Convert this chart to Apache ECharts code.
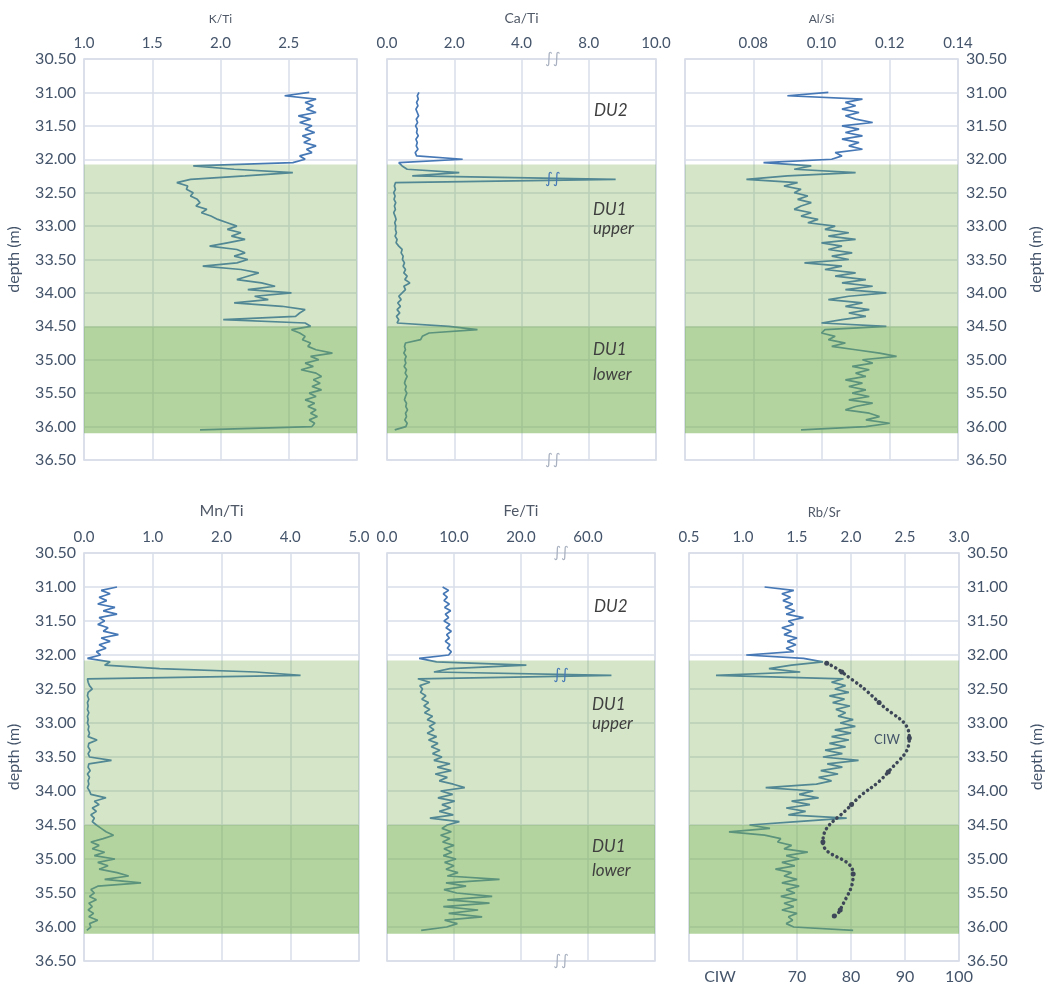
<!DOCTYPE html>
<html><head><meta charset="utf-8">
<script src="https://cdn.jsdelivr.net/npm/echarts@6/dist/echarts.min.js"></script>
<style>html,body{margin:0;padding:0;background:#fff}#c{width:1049px;height:988px}</style>
</head><body><div id="c"></div>
<script>
// ---------------- DATA ----------------
const depth = [
31.00,31.05,31.10,31.15,31.20,31.25,31.30,31.35,31.40,31.45,31.50,31.55,31.60,31.65,31.70,31.75,31.80,31.85,31.90,31.95,
32.00,32.05,32.10,32.15,32.20,32.25,32.30,32.35,32.40,32.45,32.50,32.55,32.60,32.65,32.70,32.75,32.80,32.85,32.90,32.95,
33.00,33.05,33.10,33.15,33.20,33.25,33.30,33.35,33.40,33.45,33.50,33.55,33.60,33.65,33.70,33.75,33.80,33.85,33.90,33.95,
34.00,34.05,34.10,34.15,34.20,34.25,34.30,34.35,34.40,34.45,34.50,34.55,34.60,34.65,34.70,34.75,34.80,34.85,34.90,34.95,
35.00,35.05,35.10,35.15,35.20,35.25,35.30,35.35,35.40,35.45,35.50,35.55,35.60,35.65,35.70,35.75,35.80,35.85,35.90,35.95,
36.00,36.05,36.10];

const kTi = [
2.65,2.47,2.70,2.62,2.68,2.63,2.70,2.57,2.66,2.58, 2.67,2.62,2.69,2.60,2.66,2.61,2.70,2.63,2.67,2.58,
2.62,2.53,1.80,2.10,2.53,2.18,1.78,1.68,1.76,1.75, 1.80,1.78,1.83,1.85,1.82,1.90,1.86,1.93,1.98,2.05,
2.12,2.05,2.15,2.08,2.18,2.05,1.92,2.12,2.18,2.10, 2.20,2.12,1.87,2.15,2.28,2.20,2.12,2.30,2.40,2.20,
2.52,2.25,2.35,2.10,2.45,2.62,2.58,2.55,2.02,2.62, 2.66,2.52,2.58,2.62,2.60,2.66,2.64,2.70,2.82,2.66,
2.72,2.62,2.68,2.59,2.70,2.74,2.68,2.73,2.67,2.74, 2.65,2.70,2.62,2.69,2.64,2.70,2.66,2.71,2.65,2.69,
2.67,1.85,null];

const caTi = [
0.95,0.90,0.93,0.88,0.92,0.86,0.90,0.94,0.87,0.91, 0.85,0.90,0.88,0.93,0.86,0.90,0.87,0.92,0.84,0.88,
2.25,0.35,0.45,0.60,2.15,0.75,8.8,0.25,0.22,0.25, 0.20,0.24,0.21,0.26,0.22,0.25,0.20,0.24,0.27,0.23,
0.26,0.25,0.28,0.24,0.30,0.27,0.35,0.45,0.42,0.48, 0.46,0.52,0.48,0.55,0.50,0.60,0.53,0.68,0.50,0.55,
0.45,0.35,0.42,0.32,0.40,0.30,0.38,0.28,0.35,0.30, 1.84,2.69,1.25,1.05,1.00,0.55,0.52,0.55,0.50,0.57,
0.53,0.56,0.51,0.58,0.54,0.60,0.55,0.52,0.57,0.54, 0.59,0.55,0.52,0.58,0.56,0.61,0.55,0.58,0.53,0.60,
0.56,0.23,null];

const alSi = [
0.102,0.090,0.112,0.107,0.110,0.106,0.111,0.107,0.110,0.115, 0.106,0.111,0.107,0.112,0.106,0.111,0.108,0.112,0.104,0.106,
0.103,0.083,0.097,0.092,0.110,0.090,0.078,0.093,0.089,0.094, 0.092,0.096,0.093,0.097,0.094,0.092,0.097,0.094,0.099,0.096,
0.104,0.101,0.108,0.102,0.110,0.100,0.106,0.102,0.109,0.103, 0.108,0.095,0.106,0.101,0.110,0.104,0.113,0.106,0.115,0.107,
0.119,0.108,0.102,0.112,0.107,0.114,0.108,0.113,0.106,0.100, 0.119,0.101,0.100,0.104,0.102,0.107,0.103,0.110,0.117,0.122,
0.112,0.115,0.109,0.114,0.110,0.113,0.107,0.112,0.108,0.113, 0.109,0.114,0.108,0.115,0.110,0.107,0.114,0.117,0.113,0.120,
0.113,0.094,null];

const mnTi = [
0.48,0.25,0.38,0.22,0.33,0.20,0.45,0.28,0.48,0.22, 0.30,0.20,0.35,0.28,0.50,0.25,0.38,0.22,0.32,0.18,
0.24,0.05,0.38,0.30,1.10,3.00,4.15,0.05,0.06,0.08, 0.12,0.06,0.05,0.07,0.05,0.06,0.05,0.07,0.05,0.06,
0.05,0.07,0.06,0.08,0.06,0.19,0.07,0.06,0.09,0.06, 0.08,0.40,0.07,0.06,0.09,0.05,0.08,0.06,0.07,0.05,
0.08,0.10,0.32,0.15,0.22,0.12,0.18,0.10,0.15,0.12, 0.18,0.25,0.32,0.43,0.28,0.10,0.22,0.12,0.30,0.15,
0.45,0.20,0.35,0.22,0.48,0.65,0.30,0.83,0.20,0.10, 0.15,0.08,0.18,0.07,0.12,0.06,0.14,0.07,0.20,0.08,
0.10,0.04,null];

const feTi = [
8.3,9.2,8.4,9.0,8.5,9.3,8.6,9.5,8.7,9.2, 8.5,9.4,8.8,9.6,8.9,9.3,8.7,9.4,9.0,9.6,
9.2,4.8,7.4,20.8,9.4,7.0,67,4.6,6.4,4.9, 5.3,5.0,5.8,5.2,6.2,5.5,6.4,5.6,6.8,6.0,
7.2,6.3,7.0,6.0,7.4,6.2,7.6,6.6,7.9,6.8, 8.2,7.0,9.4,7.5,9.6,7.2,9.0,7.8,9.9,11.6,
8.0,9.8,7.6,10.1,8.2,9.5,7.8,9.9,6.4,10.8, 9.0,8.2,9.6,8.0,9.4,8.3,10.0,8.5,9.7,8.4,
10.3,8.6,10.0,8.8,10.6,9.0,16.8,8.8,11.8,8.5, 10.4,15.7,9.0,15.3,8.4,13.6,9.2,14.2,8.6,10.5,
8.9,5.1,null];

const rbSr = [
1.20,1.47,1.36,1.44,1.37,1.46,1.39,1.48,1.40,1.56, 1.42,1.47,1.36,1.45,1.38,1.50,1.41,1.49,1.40,1.47,
1.03,1.56,1.74,1.45,1.24,1.53,0.75,1.93,1.82,1.95, 1.85,1.98,1.80,1.94,1.83,1.99,1.86,1.95,1.88,2.02,
1.90,2.04,1.85,2.00,1.82,1.98,1.80,1.95,1.76,1.92, 1.74,2.07,1.78,1.92,1.72,1.88,1.70,1.82,1.68,1.21,
1.65,1.52,1.70,1.45,1.62,1.40,1.58,1.42,1.96,1.50, 1.06,1.25,0.87,1.20,1.35,1.32,1.45,1.38,1.60,1.40,
1.52,1.36,1.48,1.30,1.45,1.38,1.50,1.36,1.52,1.40, 1.48,1.35,1.50,1.38,1.47,1.36,1.50,1.42,1.46,1.40,
1.47,2.02,null];

const ciwDepth = [32.12, 32.25, 32.70, 33.22, 33.72, 34.20, 34.75, 35.22, 35.75, 35.84];
const ciwValue = [75.5, 78.3, 85.2, 90.8, 86.9, 80.1, 74.8, 80.4, 78.0, 76.9];

const caTiTicks = ['0.0','2.0','4.0','8.0','10.0'];
const mnTiTicks = ['0.0','1.0','2.0','4.0','5.0'];
const feTiTicks = ['0.0','10.0','20.0','60.0',''];

const bandTop = [32.08, 34.50];
const bandBottom = [34.50, 36.10];
const bandAlpha = [0.30, 0.52];

// ---------------- HELPERS ----------------
const FONT = 'Lato';
const LABEL = '#44546A';
const GRIDC = '#d9dee8';
const LINEC = '#4678b6';

function caTiPos(v){ if (v <= 5) return v/2; if (v >= 8) return 3 + (v-8)/2; return 2.5 + (v-5)/6; }
function mnTiPos(v){ if (v <= 2) return v; if (v >= 4) return 3 + (v-4); return 2 + (v-2)/2; }
function feTiPos(v){ if (v <= 26) return v/10; if (v >= 60) return 3 + (v-60)/20; return 2.6 + (v-26)*0.4/34; }
const ident = v => v;

function pts(vals, pos){
  const out = [];
  depth.forEach((d,i) => { if (vals[i] != null) out.push([pos(vals[i]), d]); });
  return out;
}

const grids = [
  {left:84, top:59, width:273, height:401},
  {left:387, top:59, width:269, height:401},
  {left:685, top:59, width:273, height:401},
  {left:84, top:553, width:275, height:408},
  {left:387, top:553, width:268, height:408},
  {left:689, top:553, width:270, height:408}
].map(g => Object.assign({show:true, borderColor:'#d3d9e4', borderWidth:1.5, outerBoundsMode:'none', containLabel:false}, g));

function topAxis(gi, name, min, max, interval, fmt, nameSize){
  return {type:'value', gridIndex:gi, position:'top', min, max, interval,
    name, nameLocation:'middle', nameGap:34,
    nameTextStyle:{fontSize:nameSize, color:'#4f5866', fontFamily:FONT},
    axisLine:{show:false}, axisTick:{show:false},
    axisLabel:{fontSize:15, color:LABEL, fontFamily:FONT, margin:8, formatter:fmt},
    splitLine:{show:true, lineStyle:{color:GRIDC, width:1.5}}};
}
function depthAxis(gi, side){
  return {type:'value', gridIndex:gi, inverse:true, min:30.5, max:36.5, interval:0.5,
    position: side === 'right' ? 'right' : 'left',
    name: side ? 'depth (m)' : '', nameLocation:'middle', nameRotate:90,
    nameGap: side === 'right' ? 70 : 62,
    nameTextStyle:{fontSize:16, color:LABEL, fontFamily:FONT},
    axisLine:{show:false}, axisTick:{show:false},
    axisLabel:{show:!!side, fontSize:16, color:LABEL, fontFamily:FONT, margin:8, formatter:v => v.toFixed(2)},
    splitLine:{show:true, lineStyle:{color:GRIDC, width:1.5}}};
}

const xAxes = [
  topAxis(0, 'K/Ti', 1.0, 3.0, 0.5, v => v > 2.9 ? '' : v.toFixed(1), 12),
  topAxis(1, 'Ca/Ti', 0, 4, 1, v => caTiTicks[Math.round(v)], 14),
  topAxis(2, 'Al/Si', 0.06, 0.14, 0.02, v => v < 0.07 ? '' : v.toFixed(2), 12),
  topAxis(3, 'Mn/Ti', 0, 4, 1, v => mnTiTicks[Math.round(v)], 16),
  topAxis(4, 'Fe/Ti', 0, 4, 1, v => feTiTicks[Math.round(v)], 15),
  topAxis(5, 'Rb/Sr', 0.5, 3.0, 0.5, v => v.toFixed(1), 13),
  {type:'value', gridIndex:5, position:'bottom', min:50, max:100, interval:10,
   axisLine:{show:false}, axisTick:{show:false}, splitLine:{show:false},
   axisLabel:{fontSize:16, color:LABEL, fontFamily:FONT, margin:8, formatter:v => v >= 70 ? String(v) : ''}}
];
const yAxes = [depthAxis(0,'left'), depthAxis(1,null), depthAxis(2,'right'),
               depthAxis(3,'left'), depthAxis(4,null), depthAxis(5,'right')];

const bandData = bandTop.map((t,i) => [t, bandBottom[i], bandAlpha[i]]);
function bandSeries(gi){
  return {type:'custom', xAxisIndex:gi, yAxisIndex:gi, z:5, silent:true,
    data: bandData, encode:{y:[0,1]},
    renderItem:(params, api) => {
      const cs = params.coordSys;
      const y0 = api.coord([0, api.value(0)])[1];
      const y1 = api.coord([0, api.value(1)])[1];
      return {type:'rect', shape:{x:cs.x, y:y0, width:cs.width, height:y1-y0},
              style:{fill:'rgba(112,173,71,' + api.value(2) + ')'}};
    }};
}
function breakMarks(xPos, spikeDepth){
  const gray = {color:'#a9b1c0'};
  return {symbol:'rect', symbolSize:1, silent:true, itemStyle:{color:'rgba(0,0,0,0)'},
    label:{show:true, position:'inside', formatter:'\u222B\u222B', fontFamily:'DejaVu Sans', fontSize:15, color:LINEC},
    data:[{coord:[xPos,30.5], label:gray}, {coord:[xPos,36.5], label:gray}, {coord:[xPos,spikeDepth]}]};
}
function lineSeries(gi, data, extra){
  return Object.assign({type:'line', xAxisIndex:gi, yAxisIndex:gi, data, showSymbol:false, z:2,
    lineStyle:{color:LINEC, width:1.7}, itemStyle:{color:LINEC}, silent:true}, extra || {});
}

const series = [
  lineSeries(0, pts(kTi, ident)),
  lineSeries(1, pts(caTi, caTiPos), {markPoint: breakMarks(2.47, 32.30)}),
  lineSeries(2, pts(alSi, ident)),
  lineSeries(3, pts(mnTi, mnTiPos)),
  lineSeries(4, pts(feTi, feTiPos), {markPoint: breakMarks(2.6, 32.30)}),
  lineSeries(5, pts(rbSr, ident)),
  {type:'line', xAxisIndex:6, yAxisIndex:5, z:6, smooth:true, silent:true,
   data: ciwDepth.map((d,i) => [ciwValue[i], d]),
   symbol:'circle', symbolSize:5, showSymbol:true,
   itemStyle:{color:'#3d4758'},
   lineStyle:{color:'#3d4758', width:3.5, type:[0.1,5], cap:'round'}}
];
for (let g = 0; g < 6; g++) series.push(bandSeries(g));

function txt(x, y, text, size, italic, align, color){
  return {type:'text', x, y, z:100, silent:true,
    style:{text, fontSize:size, fontStyle: italic ? 'italic' : 'normal', fontFamily:FONT,
           fill: color || '#3f3f3f', align: align || 'left', verticalAlign:'middle'}};
}
const graphic = [
  txt(594,110.5,'DU2',17,true), txt(593,210,'DU1',17,true), txt(593,228.5,'upper',17,true),
  txt(593,350,'DU1',17,true), txt(593,374.5,'lower',17,true),
  txt(594,606.5,'DU2',17,true), txt(592,705,'DU1',17,true), txt(592,723.5,'upper',17,true),
  txt(592,846.5,'DU1',17,true), txt(592,870.5,'lower',17,true),
  txt(887,740,'CIW',13,false,'center',LABEL),
  txt(720,977,'CIW',16,false,'center',LABEL)
];

const chart = echarts.init(document.getElementById('c'), null, {renderer:'canvas'});
chart.setOption({animation:false, backgroundColor:'#ffffff', grid:grids, xAxis:xAxes, yAxis:yAxes, series, graphic});
</script></body></html>
